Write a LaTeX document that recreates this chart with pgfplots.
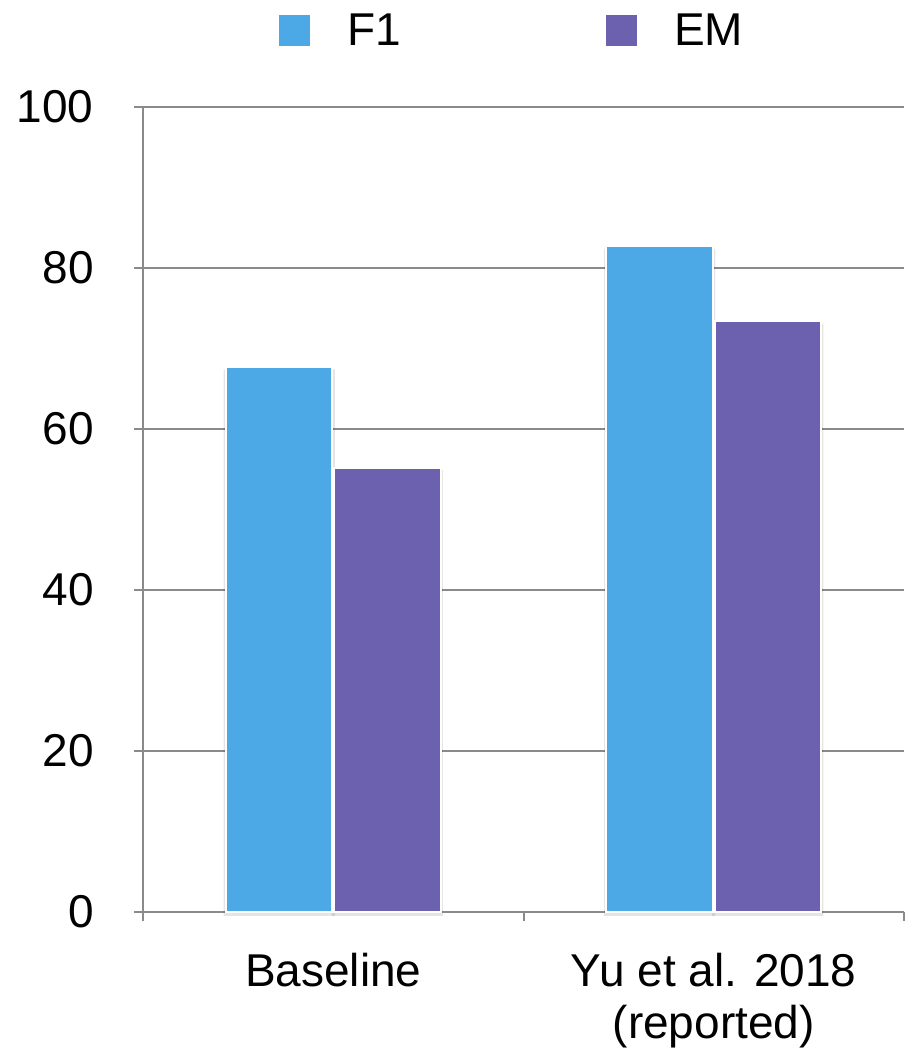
\documentclass[border=0pt]{standalone}
\usepackage{fontspec}
\setmainfont{Liberation Sans}
\usepackage{pgfplots}
\pgfplotsset{compat=1.18}
\definecolor{fone}{HTML}{4DA9E6}
\definecolor{emc}{HTML}{6C61AF}
\definecolor{gridc}{HTML}{8A8A8A}
\begin{document}
\fontsize{23}{26}\selectfont
\begin{tikzpicture}
\begin{axis}[
  scale only axis, width=380.5pt, height=402.5pt,
  xmin=-0.5, xmax=1.5, ymin=0, ymax=100,
  clip=false,
  axis x line*=bottom, axis y line*=left,
  axis line style={gridc, line width=1pt},
  xtick={-0.5,0.5,1.5}, xticklabels={},
  extra x ticks={0,1},
  extra x tick labels={Baseline, {Yu et al. 2018\\(reported)}},
  extra x tick style={major tick length=0pt, xticklabel style={align=center, anchor=north, inner sep=0pt, yshift=-20.5pt, font=\fontsize{23}{26}\selectfont}},
  ytick={0,20,40,60,80,100},
  ymajorgrids, grid style={gridc, line width=1pt},
  tick style={gridc, line width=1pt},
  major tick length=4.5pt, tick align=outside,
  yticklabel style={anchor=east, inner sep=0pt, xshift=-20pt, font=\fontsize{23}{26}\selectfont},
  /pgf/number format/assume math mode=true,
  legend columns=2,
  legend style={draw=none, fill=none, inner sep=0pt, outer sep=0pt,
    at={(rel axis cs:0,1)}, anchor=west, xshift=67pt, yshift=37.25pt,
    column sep=17.5pt, font=\fontsize{23}{26}\selectfont,
    nodes={inner sep=0pt, text width=111pt, align=left}},
  legend image code/.code={\fill[#1] (0pt,-6.9pt) rectangle (16.5pt,9.6pt);},
]
% soft shadows behind the bars (same data)
\addplot[forget plot, ybar, bar width=0.292, bar shift=-0.142, fill=black, fill opacity=0.10, draw=none, yshift=-2pt] coordinates {(0,67.9) (1,82.9)};
\addplot[forget plot, ybar, bar width=0.292, bar shift=0.142, fill=black, fill opacity=0.10, draw=none, yshift=-2pt] coordinates {(0,55.4) (1,73.6)};
\addplot[ybar, bar width=0.28, bar shift=-0.142, fill=fone, draw=white, line width=1pt] coordinates {(0,67.7) (1,82.7)};
\addlegendentry{F1}
\addplot[ybar, bar width=0.28, bar shift=0.142, fill=emc, draw=white, line width=1pt] coordinates {(0,55.2) (1,73.4)};
\addlegendentry{EM}
\coordinate (ll) at (rel axis cs:0,0);
\coordinate (ur) at (rel axis cs:1,1);
\end{axis}
\pgfresetboundingbox
\path ([xshift=-71.5pt,yshift=-70pt]ll) rectangle ([yshift=53.5pt]ur);
\end{tikzpicture}
\end{document}
